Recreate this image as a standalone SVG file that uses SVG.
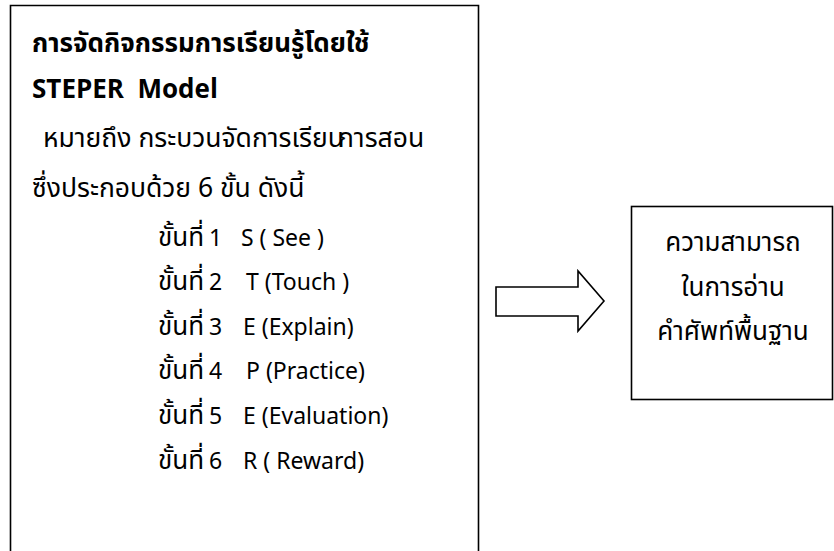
<svg xmlns="http://www.w3.org/2000/svg" width="834" height="551" viewBox="0 0 834 551">
<style>
.t{font-family:"Noto Sans Thai","Noto Sans","Liberation Sans",sans-serif;font-size:26px;fill:#000}
.b{font-weight:bold}
.s{font-size:26.5px}
.l{font-size:23px}
.box{fill:#fff;stroke:#000;stroke-width:1.6}
</style>
<rect width="834" height="551" fill="#fff"/>
<g id="left">
<path class="box" d="M10.5,560 V5.5 H478.5 V560"/>
<text class="t b" x="32" y="52">การจัดกิจกรรมการเรียนรู้โดยใช้</text>
<text class="t b" x="32" y="98" xml:space="preserve">STEPER  Model</text>
<text class="t s" x="43" y="147">หมายถึง กระบวนจัดการเรียน<tspan dx="-6">การสอน</tspan></text>
<text class="t s" x="32" y="197">ซึ่งประกอบด้วย 6 ขั้น ดังนี้</text>
<text class="t" y="246"><tspan x="158">ขั้นที่</tspan><tspan class="l" x="209">1</tspan><tspan class="l" x="241">S ( See )</tspan></text>
<text class="t" y="290"><tspan x="158">ขั้นที่</tspan><tspan class="l" x="209">2</tspan><tspan class="l" x="246">T (Touch )</tspan></text>
<text class="t" y="335"><tspan x="158">ขั้นที่</tspan><tspan class="l" x="209">3</tspan><tspan class="l" x="243">E (Explain)</tspan></text>
<text class="t" y="379"><tspan x="158">ขั้นที่</tspan><tspan class="l" x="209">4</tspan><tspan class="l" x="246">P (Practice)</tspan></text>
<text class="t" y="424"><tspan x="158">ขั้นที่</tspan><tspan class="l" x="209">5</tspan><tspan class="l" x="243">E (Evaluation)</tspan></text>
<text class="t" y="469"><tspan x="158">ขั้นที่</tspan><tspan class="l" x="209">6</tspan><tspan class="l" x="243">R ( Reward)</tspan></text>
</g>
<g id="connectors">
<path class="box" d="M496,287 H578 V271 L604,301 L578,331 V316 H496 Z"/>
</g>
<g id="right">
<rect class="box" x="631.5" y="206.5" width="201" height="193"/>
<text class="t" x="733" y="251" text-anchor="middle">ความสามารถ</text>
<text class="t" x="733" y="296" text-anchor="middle">ในการอ่าน</text>
<text class="t" x="733" y="340" text-anchor="middle">คำศัพท์พื้นฐาน</text>
</g>
</svg>
